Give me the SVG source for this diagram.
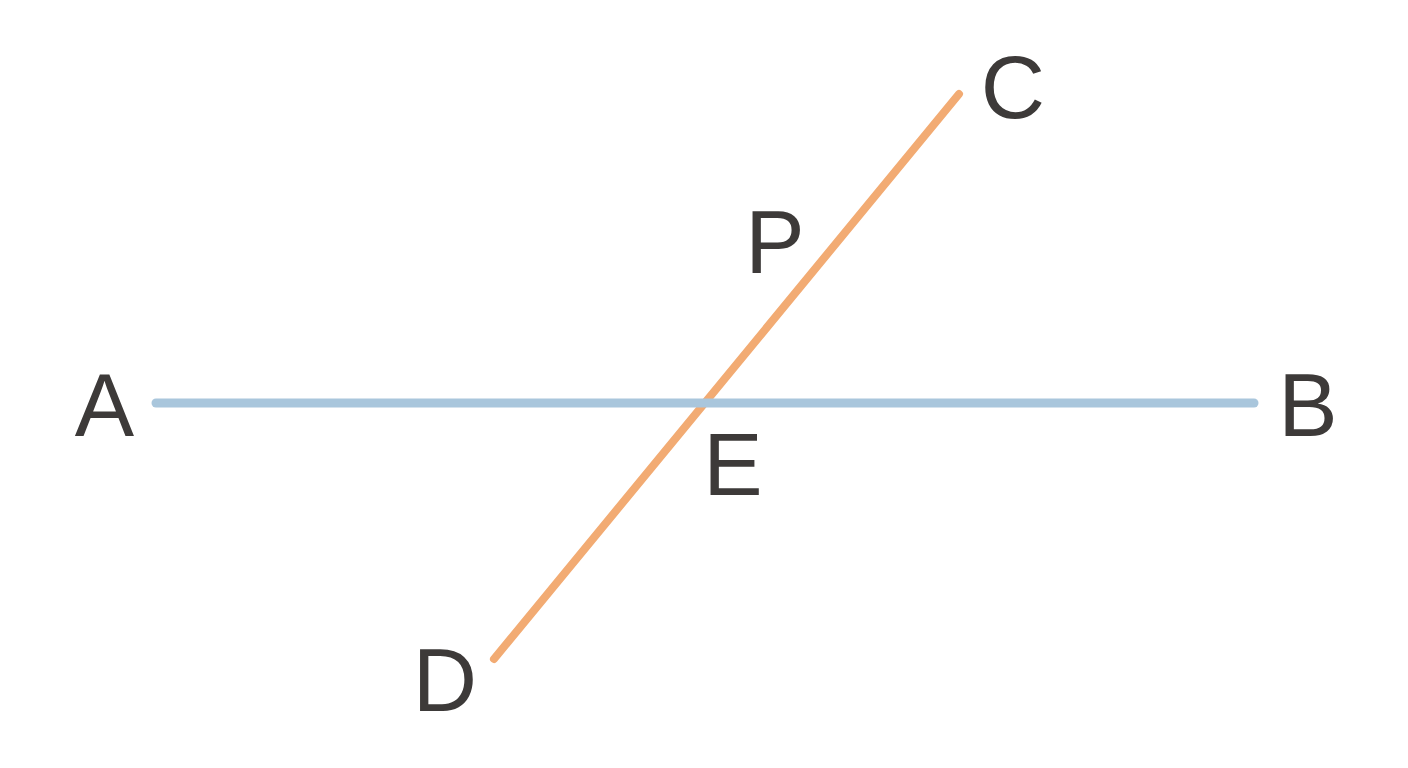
<svg xmlns="http://www.w3.org/2000/svg" width="1408" height="768" viewBox="0 0 1408 768">
<style>
.lbl{font-family:"Liberation Sans",Arial,sans-serif;font-size:89px;fill:#3d3a39;text-anchor:middle}
.seg{stroke-linecap:round;fill:none}
</style>
<rect width="1408" height="768" fill="#ffffff"/>
<g id="connectors">
<line id="CD" class="seg" x1="959" y1="94" x2="494" y2="659" stroke="#f2ab73" stroke-width="8"/>
<line id="AB" class="seg" x1="156" y1="403" x2="1254" y2="403" stroke="#a9c6dc" stroke-width="9"/>
</g>
<g id="node-A"><text class="lbl" x="104.5" y="436">A</text></g>
<g id="node-B"><text class="lbl" x="1308" y="436">B</text></g>
<g id="node-C"><text class="lbl" x="1013" y="118">C</text></g>
<g id="node-D"><text class="lbl" x="445" y="711">D</text></g>
<g id="node-E"><text class="lbl" x="733" y="495">E</text></g>
<g id="node-P"><text class="lbl" x="775" y="273">P</text></g>
</svg>
